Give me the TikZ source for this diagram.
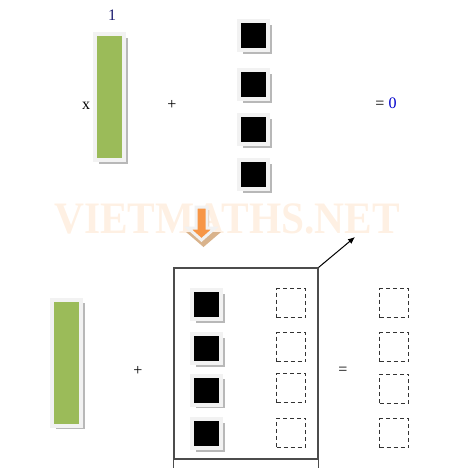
\documentclass[tikz,border=0pt]{standalone}
\usepackage{fontspec}
\setmainfont{Liberation Serif}
\usetikzlibrary{shadows,arrows.meta}
\definecolor{barg}{HTML}{9BBB59}
\definecolor{frm}{HTML}{F2F2F2}
\definecolor{wm}{HTML}{FEF0E3}
\definecolor{org}{HTML}{F79646}
\definecolor{tan}{HTML}{D9B38C}
\definecolor{navy}{HTML}{1A1A6E}
\tikzset{
  shd/.style={drop shadow={shadow xshift=3.5pt,shadow yshift=-3.5pt,fill=black!28,opacity=1}},
  blk/.style={shd,rectangle,fill=black,draw=frm,line width=4pt,minimum size=29pt,inner sep=0pt},
  gbar/.style={shd,rectangle,fill=barg,draw=frm,line width=4pt,minimum width=29pt,minimum height=126pt,inner sep=0pt},
  dsq/.style={rectangle,draw=black!80,dashed,dash pattern=on 4pt off 3pt,line width=1pt,minimum size=29pt,inner sep=0pt},
  txt/.style={font=\fontsize{16}{18}\selectfont,inner sep=0pt},
  bigbox/.style={rectangle,draw=black!70,line width=1.2pt,minimum width=144pt,minimum height=191pt,inner sep=0pt}
}
\begin{document}
\begin{tikzpicture}[x=1pt,y=-1pt]
\useasboundingbox (0,0) rectangle (455,475);
% watermark
\node[font=\bfseries\fontsize{45}{50}\selectfont,text=wm,inner sep=0pt,xscale=0.92] (wmk) at (227,219) {VIETMATHS.NET};
% top row
\node[txt,text=navy] (one) at (112,15) {1};
\node[gbar] (bar1) at (109.5,97) {};
\node[txt] (x) at (86,106) {x};
\node[txt] (p1) at (172,105) {+};
\node[blk] (t1) at (253.5,35.5) {};
\node[blk] (t2) at (253.5,84.5) {};
\node[blk] (t3) at (253.5,129.5) {};
\node[blk] (t4) at (253.5,174.5) {};
\node[txt] (eq1) at (386,103) {= \textcolor{blue!80!black}{0}};
% down arrow
\fill[tan] (198,210) -- (209,210) -- (209,232) -- (221,232) -- (203.5,247) -- (186,232) -- (198,232) -- cycle;
\path[draw=frm,line width=3pt,fill=org] (196,207) -- (207,207) -- (207,228) -- (215,228) -- (201.5,240) -- (188,228) -- (196,228) -- cycle;
% bottom
\node[gbar] (bar2) at (66.5,362.5) {};
\node[txt] (p2) at (138,371) {+};
\node[bigbox] (box) at (246,363.5) {};
\draw[black!70,line width=1.2pt] (box.south west) -- ++(0,8);
\draw[black!70,line width=1.2pt] (box.south east) -- ++(0,8);
\coordinate (tip) at (355,237);
\draw[-{Latex[length=7pt,width=6pt]},line width=1pt] (box.north east) -- (tip);
\node[blk] (b1) at (206.5,304.5) {};
\node[blk] (b2) at (206.5,348.5) {};
\node[blk] (b3) at (206.5,390) {};
\node[blk] (b4) at (206.5,433.5) {};
\node[dsq] (d1) at (291,303) {};
\node[dsq] (d2) at (291,347) {};
\node[dsq] (d3) at (291,388) {};
\node[dsq] (d4) at (291,432.5) {};
\node[txt] (eq2) at (343,371) {=};
\node[dsq] (r1) at (394,303) {};
\node[dsq] (r2) at (394,347) {};
\node[dsq] (r3) at (394,388.5) {};
\node[dsq] (r4) at (394,433) {};
\end{tikzpicture}
\end{document}
